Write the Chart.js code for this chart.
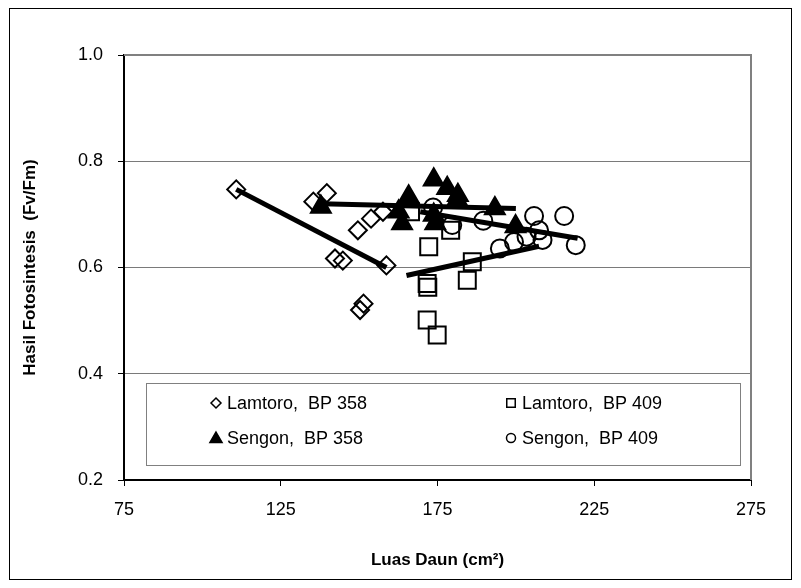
<!DOCTYPE html>
<html>
<head>
<meta charset="utf-8">
<script src="https://cdn.jsdelivr.net/npm/chart.js@4.4.0/dist/chart.umd.min.js"></script>
<style>
  body { margin: 0; background: #ffffff; }
  canvas { display: block; }
</style>
</head>
<body>
<canvas id="chart" width="801" height="588"></canvas>
<script>
// Data
let lamtoro358X = [110.8, 135.4, 139.7, 142.3, 144.8, 149.6, 150.3, 151.4, 153.8, 157.6, 158.7];
let lamtoro358Y = [0.747, 0.724, 0.740, 0.617, 0.613, 0.670, 0.520, 0.532, 0.692, 0.705, 0.604];

let lamtoro409X = [166.4, 171.7, 171.9, 172.2, 171.7, 174.9, 179.2, 184.5, 186.1];
let lamtoro409Y = [0.705, 0.570, 0.563, 0.639, 0.501, 0.473, 0.670, 0.576, 0.611];

let sengon358X = [137.8, 162.6, 163.7, 165.8, 173.8, 173.8, 174.3, 178.1, 181.3, 181.5, 193.3, 199.9];
let sengon358Y = [0.714, 0.705, 0.683, 0.733, 0.765, 0.699, 0.683, 0.749, 0.727, 0.736, 0.711, 0.677];

let sengon409X = [173.6, 179.7, 189.6, 194.9, 199.4, 203.4, 205.8, 207.4, 208.5, 215.4, 219.1];
let sengon409Y = [0.713, 0.680, 0.688, 0.636, 0.648, 0.658, 0.697, 0.670, 0.652, 0.697, 0.642];

// Trend lines (start and end points)
let trendLamtoro358X = [110.8, 158.7];
let trendLamtoro358Y = [0.747, 0.600];
let trendLamtoro409X = [165.1, 207.4];
let trendLamtoro409Y = [0.585, 0.640];
let trendSengon358X = [138.0, 200.0];
let trendSengon358Y = [0.720, 0.711];
let trendSengon409X = [169.5, 219.7];
let trendSengon409Y = [0.705, 0.655];

let legendLabels = ["Lamtoro,  BP 358", "Lamtoro,  BP 409", "Sengon,  BP 358", "Sengon,  BP 409"];
let xTitle = "Luas Daun (cm²)";
let yTitle = "Hasil Fotosintesis  (Fv/Fm)";

const FONT = "'Liberation Sans', Arial, sans-serif";

function toPoints(xs, ys) {
    return xs.map((x, i) => ({ x: x, y: ys[i] }));
}

function markerSet(label, xs, ys, style, radius, filled) {
    return {
        label: label,
        data: toPoints(xs, ys),
        showLine: false,
        pointStyle: style,
        pointRadius: radius,
        pointBorderWidth: 2,
        pointBorderColor: "#000000",
        pointBackgroundColor: filled ? "#000000" : "rgba(0,0,0,0)",
        order: 2
    };
}

function trendSet(xs, ys) {
    return {
        label: "trend",
        data: toPoints(xs, ys),
        showLine: true,
        borderColor: "#000000",
        borderWidth: 5,
        pointRadius: 0,
        order: 1
    };
}

// Excel style frame, plot border and legend box
const framePlugin = {
    id: "frame",
    afterDraw(chart) {
        let ctx = chart.ctx;
        let a = chart.chartArea;
        ctx.save();
        // gray top and right border of the plot area
        ctx.strokeStyle = "#808080";
        ctx.lineWidth = 2;
        ctx.beginPath();
        ctx.moveTo(a.left, a.top);
        ctx.lineTo(a.right, a.top);
        ctx.lineTo(a.right, a.bottom);
        ctx.stroke();

        // legend box
        let lx = 146, ly = 383, lw = 594, lh = 82;
        ctx.fillStyle = "#ffffff";
        ctx.fillRect(lx, ly, lw, lh);
        ctx.strokeStyle = "#808080";
        ctx.lineWidth = 1;
        ctx.strokeRect(lx + 0.5, ly + 0.5, lw, lh);

        let items = [
            { style: "rectRot", r: 5, fill: false, x: 216, y: 403 },
            { style: "rect", r: 6, fill: false, x: 511, y: 403 },
            { style: "triangle", r: 7, fill: true, x: 216, y: 438 },
            { style: "circle", r: 4.5, fill: false, x: 511, y: 438 }
        ];
        ctx.font = "18px " + FONT;
        ctx.textBaseline = "middle";
        items.forEach((it, i) => {
            ctx.strokeStyle = "#000000";
            ctx.fillStyle = it.fill ? "#000000" : "rgba(0,0,0,0)";
            ctx.lineWidth = 1.5;
            Chart.helpers.drawPoint(ctx, { pointStyle: it.style, radius: it.r, rotation: 0, borderWidth: 1.5 }, it.x, it.y + (it.style == "triangle" ? 1 : 0));
            ctx.fillStyle = "#000000";
            ctx.fillText(legendLabels[i], it.x + 11, it.y + 1);
        });

        // outer frame of the picture
        ctx.strokeStyle = "#000000";
        ctx.lineWidth = 1;
        ctx.strokeRect(9.5, 8.5, 782, 571);
        ctx.restore();
    }
};

let ctx = document.getElementById("chart").getContext("2d");
new Chart(ctx, {
    type: "scatter",
    data: {
        datasets: [
            trendSet(trendLamtoro358X, trendLamtoro358Y),
            trendSet(trendLamtoro409X, trendLamtoro409Y),
            trendSet(trendSengon358X, trendSengon358Y),
            trendSet(trendSengon409X, trendSengon409Y),
            markerSet(legendLabels[0], lamtoro358X, lamtoro358Y, "rectRot", 9, false),
            markerSet(legendLabels[1], lamtoro409X, lamtoro409Y, "rect", 12, false),
            markerSet(legendLabels[2], sengon358X, sengon358Y, "triangle", 11.5, true),
            markerSet(legendLabels[3], sengon409X, sengon409Y, "circle", 9, false)
        ]
    },
    options: {
        responsive: false,
        animation: false,
        layout: { padding: { top: 55, right: 50, left: 0, bottom: 0 } },
        plugins: {
            legend: { display: false },
            tooltip: { enabled: false }
        },
        scales: {
            x: {
                type: "linear",
                min: 75,
                max: 275,
                afterFit(scale) { scale.height = 108; },
                ticks: {
                    stepSize: 50,
                    color: "#000000",
                    padding: 13,
                    font: { family: FONT, size: 18 }
                },
                grid: {
                    drawOnChartArea: false,
                    drawTicks: true,
                    tickLength: 6,
                    tickColor: "#000000",
                    tickWidth: 1
                },
                border: { color: "#000000", width: 2 },
                title: {
                    display: true,
                    text: xTitle,
                    color: "#000000",
                    font: { family: FONT, size: 17, weight: "bold" },
                    padding: { top: 0, bottom: 17 }
                }
            },
            y: {
                min: 0.2,
                max: 1.0,
                afterFit(scale) { scale.width = 124; },
                ticks: {
                    stepSize: 0.2,
                    color: "#000000",
                    padding: 15,
                    font: { family: FONT, size: 18 },
                    callback: (v) => v.toFixed(1)
                },
                grid: {
                    color: (c) => (c.tick && (c.tick.value < 0.3 || c.tick.value > 0.9)) ? "rgba(0,0,0,0)" : "#7a7a7a",
                    borderDash: [1, 1],
                    lineWidth: 1,
                    tickLength: 6,
                    tickColor: "#000000",
                    tickBorderDash: [],
                    tickWidth: 1
                },
                border: { color: "#000000", width: 2 },
                title: {
                    display: true,
                    text: yTitle,
                    color: "#000000",
                    font: { family: FONT, size: 17, weight: "bold" },
                    padding: { top: 20, bottom: 0 }
                }
            }
        }
    },
    plugins: [framePlugin]
});
</script>
</body>
</html>
